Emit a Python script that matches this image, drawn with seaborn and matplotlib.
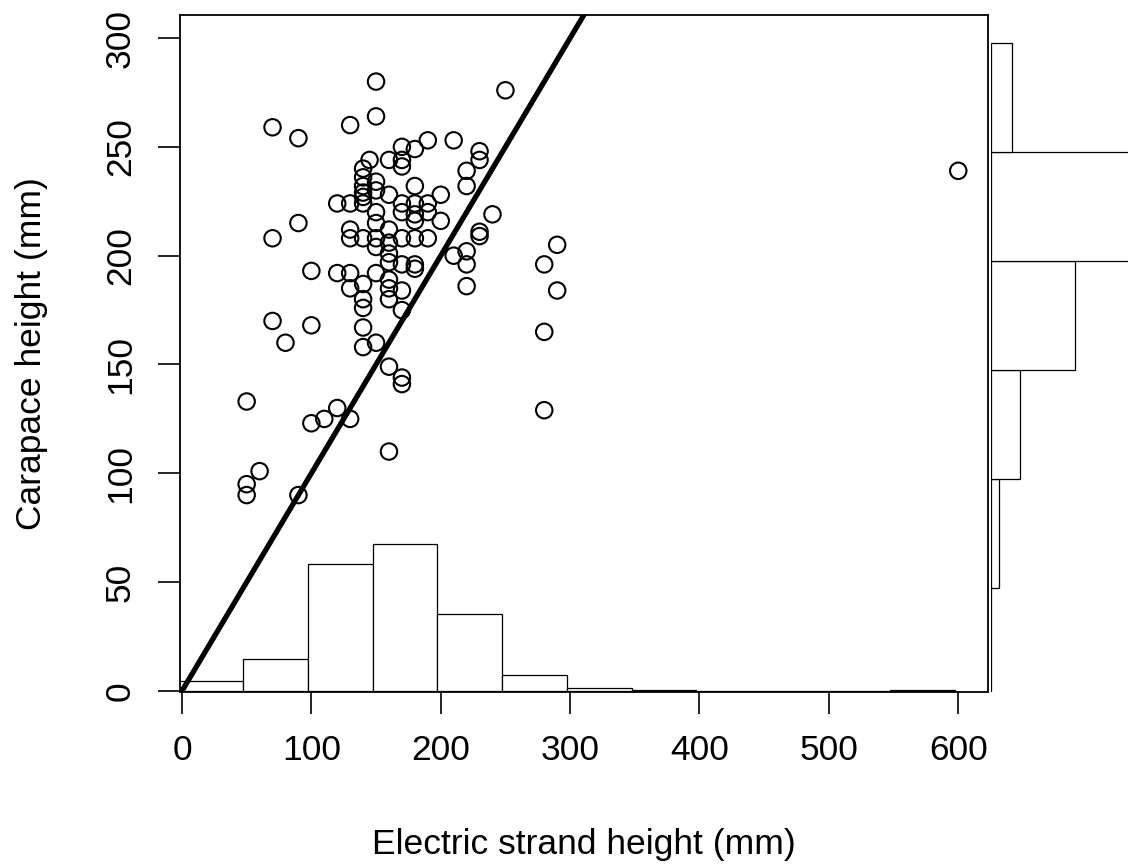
import numpy as np
import matplotlib
matplotlib.use('Agg')
import matplotlib.pyplot as plt
import seaborn as sns

# scatter points (electric strand height, carapace height), mm
strand = [70, 90, 130, 150, 150, 250,
          90, 70, 100, 70, 100, 80, 50, 100, 110, 120, 130, 60, 50, 50, 90, 160,
          170, 180, 190, 210, 230, 230, 220, 220,
          145, 160, 170, 170, 140, 140, 140, 140, 140, 150, 150, 160, 180, 200,
          120, 130, 140, 170, 180, 190,
          170, 180, 190, 150, 200, 180, 150, 160, 130,
          130, 140, 150, 160, 170, 180, 190, 150, 160, 160, 170, 180, 180,
          210, 220, 220, 230, 230, 240, 220,
          120, 130, 150, 140, 130, 160, 160, 160, 170, 140, 140, 170, 140,
          140, 150, 160, 170, 170,
          280, 290, 290, 280, 280, 600]
carapace = [259, 254, 260, 264, 280, 276,
            215, 208, 193, 170, 168, 160, 133, 123, 125, 130, 125, 101, 95, 90, 90, 110,
            250, 249, 253, 253, 248, 244, 239, 232,
            244, 244, 244, 241, 240, 236, 232, 229, 227, 234, 230, 228, 232, 228,
            224, 224, 224, 224, 224, 224,
            220, 219, 220, 220, 216, 216, 215, 212, 212,
            208, 208, 208, 206, 208, 208, 208, 204, 201, 197, 196, 196, 194,
            200, 202, 196, 211, 209, 219, 186,
            192, 192, 192, 187, 185, 189, 185, 180, 184, 180, 176, 175, 167,
            158, 160, 149, 144, 141,
            196, 205, 184, 165, 129, 239]

# marginal histograms (bin edges and bar sizes as drawn)
x_bin_edges = [-2.5, 47.5, 97.5, 147.5, 197.5, 247.5, 297.5,
               347.5, 397.5, 447.5, 497.5, 547.5, 597.5]
x_hist_heights = [4.5, 14.6, 58.3, 67.4, 35.2, 7.2, 1.5, 0.4, 0, 0, 0, 0.4]
y_bin_edges = [-2.5, 47.5, 97.5, 147.5, 197.5, 247.5, 297.5]
y_hist_widths = [0, 8, 29, 84, 220, 21]

line_intercept = 0
line_slope = 1

x_ticks = [0, 100, 200, 300, 400, 500, 600]
y_ticks = [0, 50, 100, 150, 200, 250, 300]

sns.set_theme(style='white')
plt.rcParams['font.family'] = ['Liberation Sans', 'DejaVu Sans']
plt.rcParams['text.color'] = 'black'
plt.rcParams['axes.labelcolor'] = 'black'
plt.rcParams['xtick.color'] = 'black'
plt.rcParams['ytick.color'] = 'black'

fig = plt.figure(figsize=(11.28, 8.66), dpi=100)
ax = fig.add_axes([0.1596, 0.2009, 0.7163, 0.7818])
ax_r = fig.add_axes([0.8785, 0.2009, 0.1215, 0.7818])

x_centers = (np.array(x_bin_edges[:-1]) + np.array(x_bin_edges[1:])) / 2
sns.histplot(x=x_centers, weights=x_hist_heights, bins=x_bin_edges, ax=ax,
             color='white', edgecolor='black', linewidth=0.9, alpha=1)

sns.scatterplot(x=strand, y=carapace, ax=ax, marker='o', s=140,
                facecolor='none', edgecolor='black', linewidth=1.5, zorder=3)

ax.axline((0, line_intercept), slope=line_slope, color='black',
          linewidth=3.8, zorder=4)

ax.set_xlim(-1.5, 623)
ax.set_ylim(-0.5, 310.6)
ax.set_xticks(x_ticks)
ax.set_yticks(y_ticks)
ax.set_xlabel('Electric strand height (mm)', fontsize=25.5, labelpad=44)
ax.set_ylabel('Carapace height (mm)', fontsize=25.5, labelpad=40)
ax.tick_params(axis='both', which='both', direction='out', length=16,
               width=1.2, colors='black', labelsize=25.5, bottom=True, left=True)
ax.tick_params(axis='x', pad=14)
ax.tick_params(axis='y', pad=15, labelrotation=90)
for lbl in ax.get_yticklabels():
    lbl.set_va('center')
for side in ['left', 'right', 'top', 'bottom']:
    ax.spines[side].set_visible(True)
    ax.spines[side].set_color('black')
    ax.spines[side].set_linewidth(1.3)
ax.grid(False)

y_centers = (np.array(y_bin_edges[:-1]) + np.array(y_bin_edges[1:])) / 2
sns.histplot(y=y_centers, weights=y_hist_widths, bins=y_bin_edges, ax=ax_r,
             color='white', edgecolor='black', linewidth=0.9, alpha=1)
ax_r.set_xlim(0, 137)
ax_r.set_ylim(-0.5, 310.6)
ax_r.axis('off')

fig.savefig('out.png', dpi=100)
